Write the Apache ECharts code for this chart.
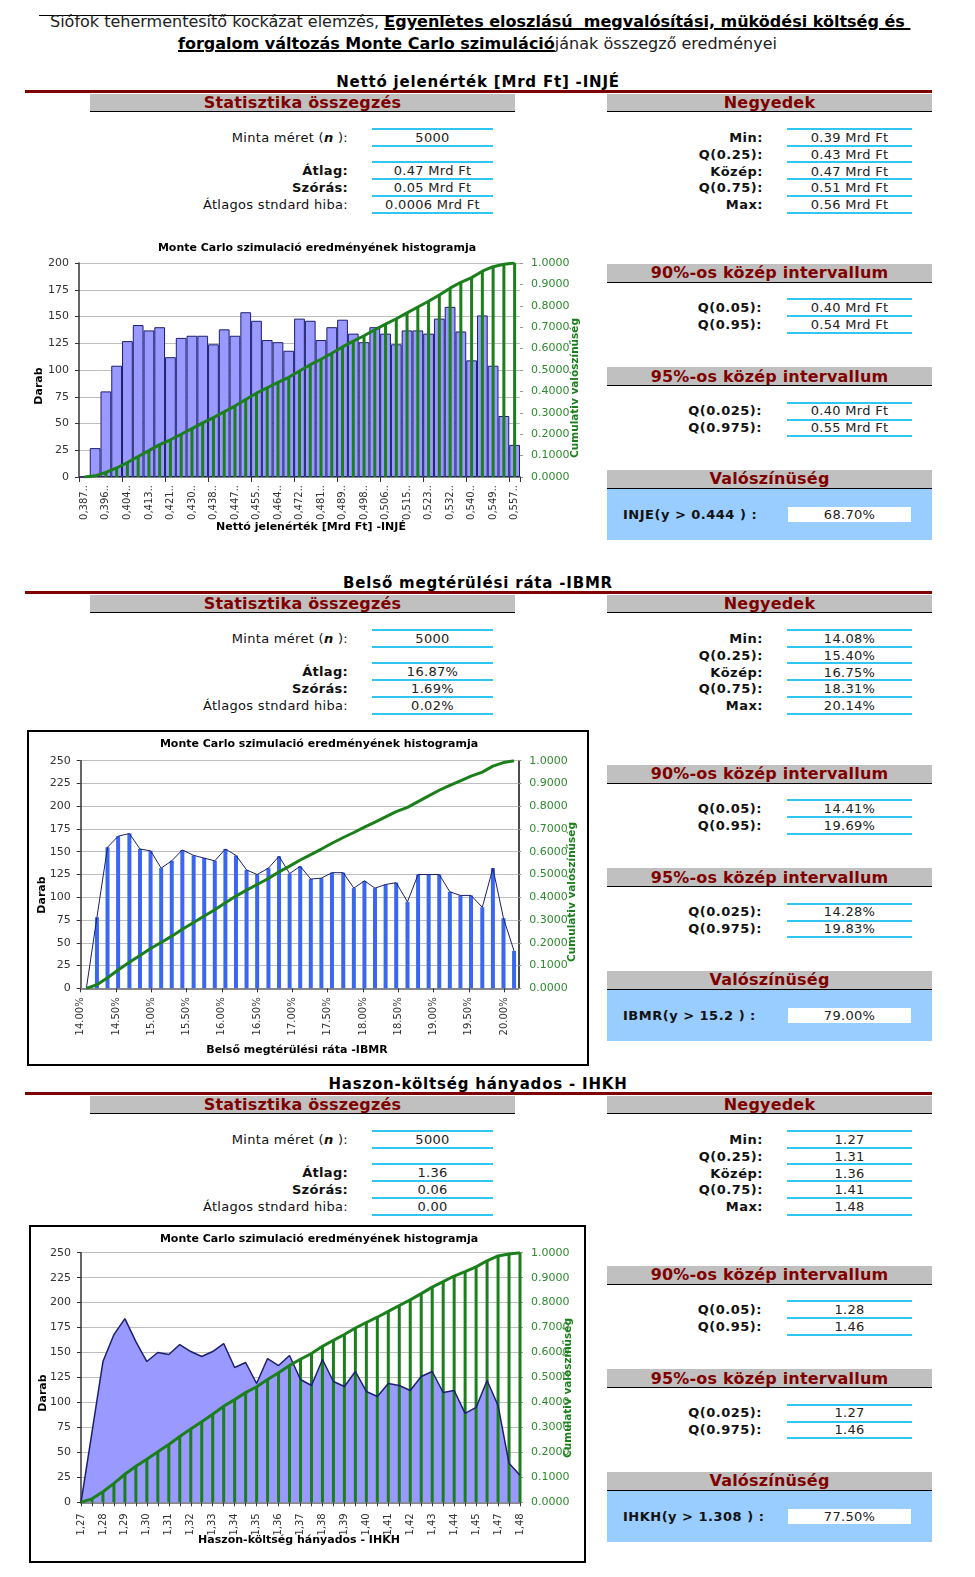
<!DOCTYPE html>
<html><head><meta charset="utf-8">
<script src="https://cdn.jsdelivr.net/npm/echarts@6/dist/echarts.min.js"></script>
<style>
html,body{margin:0;padding:0;background:#fff;}
body{width:975px;height:1577px;position:relative;overflow:hidden;font-family:"DejaVu Sans",sans-serif;color:#111;}
</style></head><body>
<script>
// ---------------- DATA ----------------
const injeCategories = ['0,387..','0,391..','0,396..','0,400..','0,404..','0,408..','0,413..','0,417..','0,421..','0,425..','0,430..','0,434..','0,438..','0,442..','0,447..','0,451..','0,455..','0,459..','0,464..','0,468..','0,472..','0,476..','0,481..','0,485..','0,489..','0,493..','0,498..','0,502..','0,506..','0,510..','0,515..','0,519..','0,523..','0,527..','0,532..','0,536..','0,540..','0,544..','0,549..','0,553..','0,557..'];
const injeCounts = [0,27,80,104,127,142,137,140,112,130,132,132,124,138,132,154,146,128,126,118,148,146,128,140,147,134,126,140,134,124,137,137,134,148,159,136,109,151,104,57,30];
const injeCumulative = [0,0.0054,0.0214,0.0422,0.0676,0.096,0.1234,0.1515,0.1739,0.1999,0.2263,0.2527,0.2775,0.3051,0.3315,0.3623,0.3916,0.4172,0.4424,0.466,0.4956,0.5248,0.5504,0.5784,0.6078,0.6347,0.6599,0.6879,0.7147,0.7395,0.7669,0.7943,0.8211,0.8507,0.8825,0.9098,0.9316,0.9618,0.9826,0.994,1];

const ibmrBins = [14.08,14.23,14.38,14.53,14.69,14.84,14.99,15.14,15.29,15.44,15.60,15.75,15.90,16.05,16.20,16.35,16.50,16.66,16.81,16.96,17.11,17.26,17.41,17.56,17.72,17.87,18.02,18.17,18.32,18.47,18.63,18.78,18.93,19.08,19.23,19.38,19.53,19.69,19.84,19.99,20.14];
const ibmrCounts = [0,78,155,167,170,153,151,132,140,152,146,143,140,153,146,130,125,132,145,126,134,120,121,127,127,110,118,110,114,116,95,125,125,125,106,102,102,89,132,77,41];
const ibmrCumulative = [0,0.0156,0.0466,0.08,0.114,0.1446,0.1748,0.2012,0.2292,0.2596,0.2888,0.3174,0.3454,0.376,0.4052,0.4312,0.4562,0.4826,0.5116,0.5368,0.5636,0.5876,0.6118,0.6372,0.6626,0.6846,0.7082,0.7302,0.753,0.7762,0.7952,0.8202,0.8452,0.8702,0.8914,0.9118,0.9322,0.95,0.9764,0.9918,1];

const ihkhCategories = ['1,27','1,275','1,28','1,285','1,29','1,295','1,30','1,305','1,31','1,315','1,32','1,325','1,33','1,335','1,34','1,345','1,35','1,355','1,36','1,365','1,37','1,375','1,38','1,385','1,39','1,395','1,40','1,405','1,41','1,415','1,42','1,425','1,43','1,435','1,44','1,445','1,45','1,46','1,47','1,475','1,48'];
const ihkhCounts = [0,70,141,168,184,161,141,150,148,158,151,146,151,159,135,140,119,144,137,147,123,117,143,121,116,131,111,106,119,117,112,126,131,110,112,89,95,122,97,39,27];
const ihkhCumulative = [0,0.014,0.0421,0.0756,0.1123,0.1444,0.1725,0.2024,0.2319,0.2635,0.2936,0.3227,0.3528,0.3845,0.4114,0.4394,0.4631,0.4918,0.5191,0.5485,0.573,0.5963,0.6249,0.649,0.6721,0.6982,0.7204,0.7415,0.7652,0.7886,0.8109,0.836,0.8622,0.8841,0.9065,0.9242,0.9432,0.9675,0.9868,0.9946,1];

const ibmrTickLabels = ['14.00%','14.50%','15.00%','15.50%','16.00%','16.50%','17.00%','17.50%','18.00%','18.50%','19.00%','19.50%','20.00%'];

const sectionTitles = ['Nettó jelenérték [Mrd Ft] -INJÉ','Belső megtérülési ráta -IBMR','Haszon-költség hányados - IHKH'];
const statLabels = ['Minta méret (<b><i>n</i></b> ):','<b>Átlag:</b>','<b>Szórás:</b>','Átlagos stndard hiba:'];
const statValues = [['5000','0.47 Mrd Ft','0.05 Mrd Ft','0.0006 Mrd Ft'],['5000','16.87%','1.69%','0.02%'],['5000','1.36','0.06','0.00']];
const quartileLabels = ['Min:','Q(0.25):','Közép:','Q(0.75):','Max:'];
const quartileValues = [['0.39 Mrd Ft','0.43 Mrd Ft','0.47 Mrd Ft','0.51 Mrd Ft','0.56 Mrd Ft'],['14.08%','15.40%','16.75%','18.31%','20.14%'],['1.27','1.31','1.36','1.41','1.48']];
const mid90Labels = ['Q(0.05):','Q(0.95):'];
const mid90Values = [['0.40 Mrd Ft','0.54 Mrd Ft'],['14.41%','19.69%'],['1.28','1.46']];
const mid95Labels = ['Q(0.025):','Q(0.975):'];
const mid95Values = [['0.40 Mrd Ft','0.55 Mrd Ft'],['14.28%','19.83%'],['1.27','1.46']];
const probLabels = ['INJE(y &gt; 0.444 ) :','IBMR(y &gt; 15.2 ) :','IHKH(y &gt; 1.308 ) :'];
const probValues = ['68.70%','79.00%','77.50%'];
const headerTexts = ['Statisztika összegzés','Negyedek','90%-os közép intervallum','95%-os közép intervallum','Valószínüség'];
const histTitle = 'Monte Carlo szimulació eredményének histogramja';
const xAxisNames = ['Nettó jelenérték [Mrd Ft] -INJÉ','Belső megtérülési ráta -IBMR','Haszon-költség hányados - IHKH'];

// ---------------- LAYOUT HELPERS ----------------
const body = document.body;
function el(css, html){ const d=document.createElement('div'); d.style.cssText='position:absolute;'+css; if(html!==undefined) d.innerHTML=html; body.appendChild(d); return d; }
function rect(x,y,w,h,c){ el(`left:${x}px;top:${y}px;width:${w}px;height:${h}px;background:${c};`); }
function txt(x,y,html,align,css){
  let l, w=400;
  if(align==='right') l=x-w; else if(align==='center') l=x-w/2; else l=x;
  el(`left:${l}px;top:${y-9}px;width:${w}px;height:18px;line-height:18px;text-align:${align||'left'};white-space:nowrap;font-size:13px;${css||''}`, html);
}
const CYAN='#2fc6ef', MAROON='#800000', GRAY='#c0c0c0';
const LAB='color:#111;letter-spacing:0.3px;';
const BLAB='font-weight:bold;color:#111;letter-spacing:0.5px;';
const VAL='color:#222;letter-spacing:0.3px;';
function header(x,y,w,h,label){
  rect(x,y,w,h,GRAY); rect(x,y+h,w,1,'#000');
  txt(x+w/2,y+h/2+0.5,label,'center',`font-weight:bold;font-size:16px;letter-spacing:0.2px;color:${MAROON};`);
}

// title
rect(39,15,411,1,'#000');
el('left:50px;top:13px;white-space:nowrap;font-family:"DejaVu Sans";font-size:16px;line-height:18px;color:#222;',
   'Siófok tehermentesítő kockázat elemzés, <b style="text-decoration:underline;text-decoration-thickness:2px;color:#000">Egyenletes eloszlású&nbsp; megvalósítási, müködési költség és&nbsp;</b>');
el('left:178px;top:35px;white-space:nowrap;font-family:"DejaVu Sans";font-size:16px;line-height:18px;color:#222;',
   '<b style="text-decoration:underline;text-decoration-thickness:2px;color:#000">forgalom változás Monte Carlo szimuláció</b>jának összegző eredményei');

for(let i=0;i<3;i++){
  const d=501*i;
  txt(478,82+d,sectionTitles[i],'center','font-weight:bold;font-size:15px;letter-spacing:0.8px;color:#000;');
  rect(25,90+d,907,3,MAROON);
  header(90,94+d,425,17,headerTexts[0]);
  header(607,94+d,325,17,headerTexts[1]);
  [128,145,161,178,195,212].forEach(y=>{ rect(372,y+d,121,2,CYAN); rect(787,y+d,125,2,CYAN); });
  const sy=[138,171,188,205];
  for(let k=0;k<4;k++){
    txt(348,sy[k]+d,statLabels[k],'right',LAB);
    txt(432.5,sy[k]+d,statValues[i][k],'center',VAL);
  }
  const qy=[138,155,171.5,188,205];
  for(let k=0;k<5;k++){
    txt(763,qy[k]+d,quartileLabels[k],'right',BLAB);
    txt(849.5,qy[k]+d,quartileValues[i][k],'center',VAL);
  }
  header(607,263.5+d,325,18,headerTexts[2]);
  [298,315,332].forEach(y=>rect(787,y+d,125,2,CYAN));
  [308,325].forEach((y,k)=>{ txt(762,y+d,mid90Labels[k],'right',BLAB); txt(849.5,y+d,mid90Values[i][k],'center',VAL); });
  header(607,367+d,325,18,headerTexts[3]);
  [401.5,418.5,435].forEach(y=>rect(787,y+d,125,2,CYAN));
  [411,428].forEach((y,k)=>{ txt(762,y+d,mid95Labels[k],'right',BLAB); txt(849.5,y+d,mid95Values[i][k],'center',VAL); });
  header(607,469.5+d,325,18,headerTexts[4]);
  rect(607,489+d,325,51,'#99ccff');
  rect(788,507+d,123,15,'#fff');
  txt(623,515+d,probLabels[i],'left',BLAB);
  txt(849.5,515+d,probValues[i],'center',VAL);
}

// ---------------- CHARTS ----------------
const GREEN='#1b7f1b', GLAB='#2e8b2e', NAVY='#1c1f6e', FF='"DejaVu Sans", sans-serif';
function mkDiv(x,y,w,h){ return el(`left:${x}px;top:${y}px;width:${w}px;height:${h}px;`); }
function gtext(x,y,text,opt){
  return Object.assign({type:'text',x:x,y:y,silent:true,style:{text:text,font:'bold 11px '+FF,fill:'#000',align:'center',verticalAlign:'middle'}},opt||{});
}
function gname(x,y){ return {type:'text',x:x,y:y,rotation:Math.PI/2,silent:true,style:{text:'Cumulativ valószínűség',font:'bold 10.5px '+FF,fill:GREEN,align:'center',verticalAlign:'middle'}}; }
function leftY(max){ return {type:'value',min:0,max:max,interval:25,axisLine:{show:true,lineStyle:{color:'#333',width:1.5}},axisTick:{show:true,length:4,lineStyle:{color:'#333'}},axisLabel:{fontSize:11,color:'#333',margin:10,fontFamily:FF},splitLine:{lineStyle:{color:'#bdbdbd'}}}; }
function rightY(lineShow){ return {type:'value',min:0,max:1,interval:0.1,position:'right',axisLine:{show:lineShow,lineStyle:{color:'#111',width:1.5}},axisTick:{show:true,length:3,lineStyle:{color:'#999'}},axisLabel:{fontSize:11,color:GLAB,margin:11,fontFamily:FF,formatter:v=>v.toFixed(4)},splitLine:{show:false}}; }

// Chart 1
(function(){
  const c = echarts.init(mkDiv(20,235,570,300));
  c.setOption({
    animation:false,
    grid:{left:59,top:28,width:441,height:214},
    xAxis:[
      {type:'category',data:injeCategories,boundaryGap:true,axisLine:{lineStyle:{color:'#333',width:1.5}},
       axisTick:{show:true,interval:3,length:5,lineStyle:{color:'#333'}},
       axisLabel:{interval:1,rotate:90,fontSize:10,color:'#333',margin:8,fontFamily:FF}},
      {type:'category',data:injeCategories,boundaryGap:true,position:'top',axisLine:{lineStyle:{color:'#888',width:2}},axisTick:{show:false},axisLabel:{show:false}}
    ],
    yAxis:[leftY(200),rightY(false)],
    series:[
      {type:'bar',data:injeCounts,barCategoryGap:'0%',itemStyle:{color:'#9999ff',borderColor:NAVY,borderWidth:1}},
      {type:'bar',xAxisIndex:1,yAxisIndex:1,data:injeCumulative,barWidth:3,itemStyle:{color:GREEN},z:3},
      {type:'line',yAxisIndex:1,data:injeCumulative,symbol:'none',lineStyle:{color:GREEN,width:3},z:4}
    ],
    graphic:[
      gtext(297,13,histTitle),
      gtext(291,292,xAxisNames[0]),
      gtext(19,151,'Darab',{rotation:Math.PI/2}),
      gname(555,153)
    ]
  });
})();

// Chart 2
(function(){
  const c = echarts.init(mkDiv(20,725,570,345));
  const bars = ibmrBins.map((x,k)=>[x,ibmrCounts[k]]);
  const cum = ibmrBins.map((x,k)=>[x,ibmrCumulative[k]]);
  c.setOption({
    animation:false,
    grid:{left:60.7,top:35.7,width:437.6,height:227.6},
    xAxis:[
      {type:'value',min:14,max:20.2,interval:0.5,axisLine:{lineStyle:{color:'#333',width:1.5}},
       axisTick:{show:true,length:4,lineStyle:{color:'#333'}},splitLine:{show:false},
       axisLabel:{rotate:90,fontSize:10,color:'#333',margin:9,fontFamily:FF,showMaxLabel:false,
         formatter:v=>{const k=Math.round((v-14)/0.5); return Math.abs(v-14-k*0.5)<1e-6 && ibmrTickLabels[k] ? ibmrTickLabels[k] : '';}}},
      {type:'value',min:14,max:20.2,position:'top',axisLine:{show:true,lineStyle:{color:'#888',width:2}},axisTick:{show:false},axisLabel:{show:false},splitLine:{show:false}}
    ],
    yAxis:[leftY(250),rightY(true)],
    series:[
      {type:'bar',data:bars,barWidth:4,itemStyle:{color:'#3a66f0'}},
      {type:'line',data:bars,symbol:'none',lineStyle:{color:NAVY,width:1},z:3},
      {type:'line',yAxisIndex:1,data:cum,symbol:'none',lineStyle:{color:GREEN,width:3},z:4}
    ],
    graphic:[
      {type:'rect',silent:true,shape:{x:8,y:6,width:560,height:334},style:{fill:'none',stroke:'#000',lineWidth:2}},
      gtext(299,19.5,histTitle),
      gtext(277,325,xAxisNames[1]),
      gtext(21.7,170,'Darab',{rotation:Math.PI/2}),
      gname(552,167)
    ]
  });
})();

// Chart 3
(function(){
  const c = echarts.init(mkDiv(20,1215,570,360));
  c.setOption({
    animation:false,
    grid:{left:61,top:37.7,width:439,height:249.6},
    xAxis:[
      {type:'category',data:ihkhCategories,boundaryGap:false,axisLine:{lineStyle:{color:'#333',width:1.5}},
       axisTick:{show:true,interval:0,length:4,lineStyle:{color:'#333'}},
       axisLabel:{interval:1,rotate:90,fontSize:10,color:'#333',margin:11,fontFamily:FF}},
      {type:'category',data:ihkhCategories,boundaryGap:false,position:'top',axisLine:{lineStyle:{color:'#888',width:2}},axisTick:{show:false},axisLabel:{show:false}}
    ],
    yAxis:[leftY(250),rightY(false)],
    series:[
      {type:'line',data:ihkhCounts,symbol:'none',lineStyle:{color:NAVY,width:1.5},areaStyle:{color:'#9999ff',opacity:1}},
      {type:'bar',xAxisIndex:1,yAxisIndex:1,data:ihkhCumulative,barWidth:3,itemStyle:{color:GREEN},z:3},
      {type:'line',yAxisIndex:1,data:ihkhCumulative,symbol:'none',lineStyle:{color:GREEN,width:3},z:4}
    ],
    graphic:[
      {type:'rect',silent:true,shape:{x:10,y:11,width:555,height:336},style:{fill:'none',stroke:'#000',lineWidth:2}},
      gtext(299,24.3,histTitle),
      gtext(279,325,xAxisNames[2]),
      gtext(22.7,178,'Darab',{rotation:Math.PI/2}),
      gname(548,173)
    ]
  });
})();
</script>
</body></html>
